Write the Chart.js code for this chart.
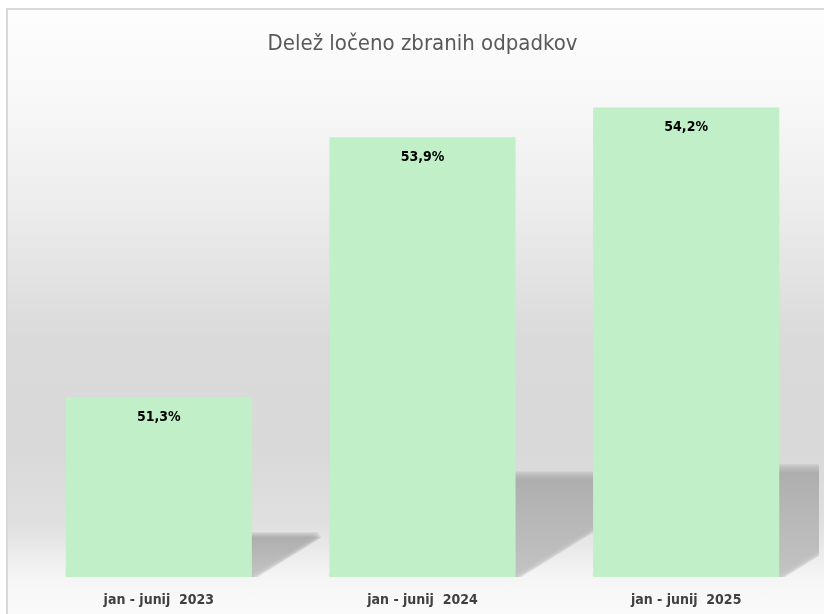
<!DOCTYPE html>
<html lang="sl">
<head>
<meta charset="utf-8">
<title>Delež ločeno zbranih odpadkov</title>
<script src="https://cdn.jsdelivr.net/npm/chart.js@4.4.1/dist/chart.umd.min.js"></script>
<style>
  html, body { margin: 0; padding: 0; width: 824px; height: 614px; overflow: hidden; background: #ffffff; }
  #okvir {
    position: absolute; left: 6px; top: 8px; width: 900px; height: 700px;
    border-left: 2px solid #d9d9d9; border-top: 2px solid #d9d9d9;
    background: linear-gradient(to bottom,
      #fdfdfd 0px, #f8f8f8 90px, #ececec 200px, #dadada 330px,
      #d9d9d9 440px, #e0e0e0 515px, #f5f5f5 567px, #fbfbfb 610px, #fbfbfb 700px);
  }
  #platno { position: absolute; left: 0; top: 0; }
</style>
</head>
<body>
<div id="okvir"></div>
<canvas id="platno" width="824" height="614"></canvas>
<script>
// Podatki grafa
const obdobja = ['jan - junij  2023', 'jan - junij  2024', 'jan - junij  2025'];
const delezi = [51.3, 53.9, 54.2];
const osY = [49.5, 54.5];   // spodnja in zgornja meja osi (os ni prikazana)

const pisava = "'DejaVu Sans Condensed', 'Roboto', sans-serif";

// Senca za stolpci: poševna projekcija stolpca na "tla"
const sencaStolpcev = {
    id: 'sencaStolpcev',
    beforeDatasetsDraw(chart) {
        const ctx = chart.ctx;
        const ca = chart.chartArea;
        const meta = chart.getDatasetMeta(0);
        const dno = chart.scales.y.getPixelForValue(osY[0]);
        ctx.save();
        ctx.beginPath();
        ctx.rect(ca.left, 0, ca.right - ca.left + 1, dno);
        ctx.clip();
        meta.data.forEach((bar, i) => {
            const vrh = chart.scales.y.getPixelForValue(delezi[i]);
            const xL = bar.x - bar.width / 2;
            const xR = bar.x + bar.width / 2;
            const hs = (dno - vrh) * 0.235;
            const zamik = hs / 0.62;
            // normala poševnega roba (navzven), za mehak rob
            const dol = Math.hypot(hs, zamik);
            const nx = hs / dol, ny = zamik / dol;
            const g = ctx.createLinearGradient(0, dno - hs, 0, dno);
            g.addColorStop(0, 'rgb(190,190,190)');
            g.addColorStop(0.06, 'rgb(172,172,172)');
            g.addColorStop(1, 'rgb(194,194,194)');
            ctx.fillStyle = g;
            ctx.globalAlpha = 0.42;
            for (let t = -3; t <= 3; t += 1) {
                const ox = nx * t, oy = ny * t;
                ctx.beginPath();
                ctx.moveTo(xL + ox, dno + oy);
                ctx.lineTo(xR + ox, dno + oy);
                ctx.lineTo(xR + zamik + ox, dno - hs + oy);
                ctx.lineTo(xL + zamik + ox, dno - hs + oy);
                ctx.closePath();
                ctx.fill();
            }
        });
        ctx.restore();
    }
};

// Oznake vrednosti znotraj vrha stolpca
const oznakeVrednosti = {
    id: 'oznakeVrednosti',
    afterDatasetsDraw(chart) {
        const ctx = chart.ctx;
        const meta = chart.getDatasetMeta(0);
        ctx.save();
        ctx.font = 'bold 14px ' + pisava;
        ctx.fillStyle = '#000000';
        ctx.textAlign = 'center';
        ctx.textBaseline = 'middle';
        meta.data.forEach((bar, i) => {
            const besedilo = delezi[i].toFixed(1).replace('.', ',') + '%';
            ctx.fillText(besedilo, bar.x, bar.y + 20);
        });
        ctx.restore();
    }
};

new Chart(document.getElementById('platno'), {
    type: 'bar',
    data: {
        labels: obdobja,
        datasets: [{
            data: delezi,
            backgroundColor: '#c1f0c8',
            borderWidth: 0,
            barPercentage: 0.706,
            categoryPercentage: 1.0
        }]
    },
    options: {
        responsive: false,
        animation: false,
        devicePixelRatio: 1,
        layout: { padding: { left: 27, right: 6, top: 0, bottom: 0 } },
        plugins: {
            legend: { display: false },
            tooltip: { enabled: false },
            title: {
                display: true,
                text: 'Delež ločeno zbranih odpadkov',
                color: '#595959',
                font: { family: pisava, size: 22, weight: 'normal' },
                padding: { top: 31, bottom: 20 }
            }
        },
        scales: {
            x: {
                grid: { display: false, drawTicks: false },
                border: { display: false },
                ticks: {
                    color: '#404040',
                    font: { family: pisava, size: 14, weight: 'bold' },
                    padding: 15,
                    maxRotation: 0
                },
                afterFit(axis) { axis.height = 37; }
            },
            y: {
                display: false,
                min: osY[0],
                max: osY[1]
            }
        }
    },
    plugins: [sencaStolpcev, oznakeVrednosti]
});
</script>
</body>
</html>
